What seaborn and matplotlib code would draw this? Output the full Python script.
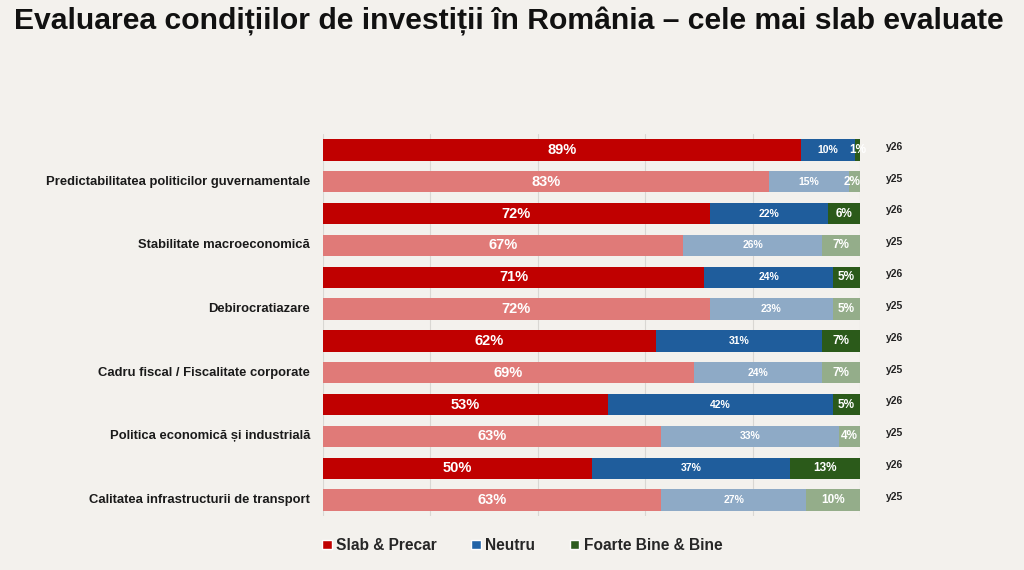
import matplotlib
matplotlib.use("Agg")
import matplotlib.pyplot as plt
import seaborn as sns
import pandas as pd
import numpy as np
from matplotlib.patches import Patch

categories = [
    "Predictabilitatea politicilor guvernamentale",
    "Stabilitate macroeconomică",
    "Debirocratiazare",
    "Cadru fiscal / Fiscalitate corporate",
    "Politica economică și industrială",
    "Calitatea infrastructurii de transport",
]
years = ["y26", "y25"]
slab_y26 = [89, 72, 71, 62, 53, 50]
neutru_y26 = [10, 22, 24, 31, 42, 37]
bine_y26 = [1, 6, 5, 7, 5, 13]
slab_y25 = [83, 67, 72, 69, 63, 63]
neutru_y25 = [15, 26, 23, 24, 33, 27]
bine_y25 = [2, 7, 5, 7, 4, 10]
series_names = ["Slab & Precar", "Neutru", "Foarte Bine & Bine"]

rows = []
for i, c in enumerate(categories):
    rows.append(dict(row=f"{c}|y26", cat=c, year="y26", slab=slab_y26[i], neutru=neutru_y26[i], bine=bine_y26[i]))
    rows.append(dict(row=f"{c}|y25", cat=c, year="y25", slab=slab_y25[i], neutru=neutru_y25[i], bine=bine_y25[i]))
df = pd.DataFrame(rows)
df["c1"] = df["slab"]
df["c2"] = df["slab"] + df["neutru"]
df["c3"] = df["c2"] + df["bine"]

BG = "#f3f1ed"
pal_red = {"y26": "#c00000", "y25": "#e07a78"}
pal_blue = {"y26": "#1f5d9c", "y25": "#8eaac6"}
pal_green = {"y26": "#2b5a1a", "y25": "#94ad8a"}

sns.set_theme(style="white")
plt.rcParams["font.family"] = ["Liberation Sans", "DejaVu Sans"]

fig = plt.figure(figsize=(10.24, 5.7), dpi=100, facecolor=BG)
ax = fig.add_axes([323 / 1024, 1 - 516 / 570, 537 / 1024, 382 / 570])
ax.set_facecolor(BG)

order = list(df["row"])
bw = 0.67
for col, pal in [("c3", pal_green), ("c2", pal_blue), ("c1", pal_red)]:
    sns.barplot(data=df, x=col, y="row", hue="year", palette=pal, order=order,
                dodge=False, width=bw, ax=ax, legend=False, saturation=1,
                linewidth=0, zorder=3)

ax.set_xlim(0, 100)
ax.set_ylim(len(order) - 0.5, -0.5)
for gx in [0, 20, 40, 60, 80, 100]:
    ax.axvline(gx, color="#d9d7d3", lw=0.8, zorder=0)
for s in ax.spines.values():
    s.set_visible(False)
ax.set_xticks([])
ax.set_yticks([])
ax.set_xlabel("")
ax.set_ylabel("")

# segment labels
for idx, r in df.iterrows():
    y = idx
    ax.text(r["slab"] / 2, y, f"{r['slab']}%", ha="center", va="center",
            color="white", fontsize=10.5, fontweight="bold", zorder=5)
    ax.text(r["slab"] + r["neutru"] / 2, y, f"{r['neutru']}%", ha="center", va="center",
            color="white", fontsize=7.5, fontweight="bold", zorder=5)
    b = r["bine"]
    if b < 3:
        ax.text(r["c2"] + 0.6, y, f"{b}%", ha="center", va="center", color="white",
                fontsize=8.5, fontweight="bold", zorder=5, clip_on=False)
    else:
        ax.text(r["c2"] + b / 2, y, f"{b}%", ha="center", va="center", color="white",
                fontsize=8.5, fontweight="bold", zorder=5)
    ax.text(104.8, y - 0.1, r["year"], ha="left", va="center", color="#222222",
            fontsize=7.5, fontweight="bold", clip_on=False)

# category labels
for i, c in enumerate(categories):
    ax.text(-2.4, 2 * i + 1, c, ha="right", va="center", color="#1a1a1a",
            fontsize=9.4, fontweight="bold", clip_on=False)

fig.text(0.014, 0.962, "Evaluarea condițiilor de investiții în România – cele mai slab evaluate",
         ha="left", va="center", fontsize=21.7, fontweight="bold", color="#111111")

handles = [Patch(facecolor="#c00000", label=series_names[0]),
           Patch(facecolor="#2364a8", label=series_names[1]),
           Patch(facecolor="#2d5e21", label=series_names[2])]
leg = fig.legend(handles=handles, loc="center", bbox_to_anchor=(0.51, 0.043), ncol=3,
                 frameon=False, prop={"family": ["Liberation Sans", "DejaVu Sans"], "weight": "bold", "size": 11.2},
                 handlelength=0.6, handleheight=0.6, handletextpad=0.3, columnspacing=2.2)

fig.savefig("out.png", dpi=100, facecolor=BG)
